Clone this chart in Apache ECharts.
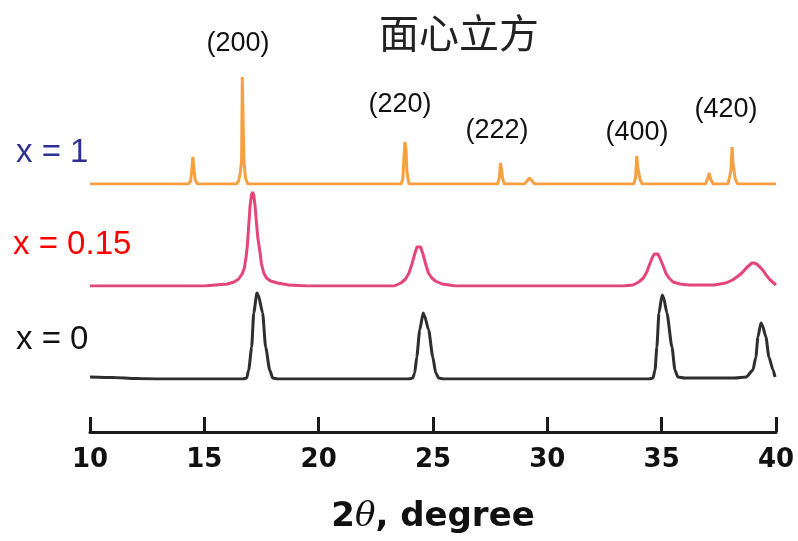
<!DOCTYPE html>
<html lang="zh" style="height: 100%">
<head>
<meta charset="utf-8">
<title>面心立方 XRD</title>
</head>
<body style="height: 100%; margin: 0; background: #fff">
<div id="container" style="width: 798px; height: 541px"></div>

<script type="text/javascript" src="https://cdn.jsdelivr.net/npm/echarts@6/dist/echarts.min.js"></script>

<script type="text/javascript">

// 2theta (degree) and intensity (a.u., above each trace's own baseline)
var theta1 = [10, 14.30, 14.40, 14.45, 14.50, 14.55, 14.60, 14.70, 16.40, 16.50, 16.58, 16.63, 16.66, 16.70, 16.73, 16.80, 16.90,
    23.60, 23.68, 23.74, 23.77, 23.82, 23.86, 23.95, 27.82, 27.90, 27.95, 28.00, 28.05, 28.12, 29.00, 29.22, 29.45,
    33.78, 33.86, 33.91, 33.96, 34.02, 34.06, 34.15, 36.92, 37.02, 37.08, 37.14, 37.25,
    37.90, 37.98, 38.03, 38.08, 38.12, 38.17, 38.22, 38.32, 40];
var int1 = [0, 0, 3, 14, 27, 14, 4, 0, 0, 3, 12, 24, 107, 107, 24, 6, 0,
    0, 5, 30, 42, 34, 12, 0, 0, 6, 21, 14, 5, 0, 0, 6, 0,
    0, 6, 28, 16, 15, 4, 0, 0, 6, 11, 5, 0,
    0, 8, 14, 37, 20, 18, 5, 0, 0];

var theta015 = [10, 15.0, 15.5, 16.0, 16.3, 16.5, 16.65, 16.75, 16.82, 16.88, 16.94, 17.0, 17.06, 17.11, 17.16, 17.22, 17.28, 17.34, 17.42, 17.5, 17.6, 17.72, 17.9, 18.2, 18.7, 19.5,
    23.3, 23.6, 23.8, 23.95, 24.08, 24.2, 24.3, 24.38, 24.46, 24.56, 24.68, 24.8, 24.95, 25.1, 25.4, 26.0,
    33.3, 33.75, 34.0, 34.2, 34.35, 34.48, 34.6, 34.68, 34.75, 34.83, 34.92, 35.05, 35.18, 35.32, 35.5, 35.8, 36.2,
    36.5, 37.3, 37.8, 38.1, 38.35, 38.55, 38.7, 38.85, 38.95, 39.04, 39.15, 39.3, 39.45, 39.6, 39.75, 39.9, 40];
var int015 = [0, 0, 1, 2, 4, 7, 12, 18, 28, 40, 60, 80, 91, 94, 91, 80, 63, 48, 36, 22, 13, 8, 5, 3, 1, 0,
    0, 3, 7, 13, 22, 32, 39, 41, 39, 32, 22, 13, 8, 5, 2, 0,
    0, 1, 4, 8, 14, 22, 29, 32, 33, 32, 28, 21, 13, 8, 4, 2, 1,
    1, 1, 3, 6, 10, 14, 18, 21, 23, 23, 22, 19, 15, 10, 6, 3, 1];

var theta0 = [10, 11, 12, 13, 16.7, 16.85, 16.94, 17.07, 17.16, 17.3, 17.36, 17.55, 17.68, 17.86, 17.99, 18.2,
    23.95, 24.11, 24.2, 24.29, 24.42, 24.57, 24.62, 24.81, 24.99, 25.12, 25.25, 25.45,
    34.45, 34.62, 34.71, 34.79, 34.88, 35.02, 35.08, 35.23, 35.45, 35.58, 35.71, 36.0,
    38.2, 38.7, 38.99, 39.12, 39.21, 39.34, 39.4, 39.56, 39.69, 39.87, 39.96];
var int0 = [2, 1.5, 0.5, 0, 0, 1, 9, 32, 66, 86, 84, 66, 32, 9, 1, 0,
    0, 1, 6, 22, 49, 66, 64, 49, 22, 6, 1, 0,
    0, 1, 9, 32, 66, 84, 82, 66, 32, 9, 2, 1,
    1, 2, 9, 22, 42, 56, 54, 42, 22, 9, 2];

var xTicks = [10, 15, 20, 25, 30, 35, 40];
var peakLabels = ['(200)', '(220)', '(222)', '(400)', '(420)'];
var sampleNames = ['x = 1', 'x = 0.15', 'x = 0'];

function pairs(xs, ys) {
    return xs.map(function (x, i) { return [x, ys[i]]; });
}

var dom = document.getElementById('container');
var myChart = echarts.init(dom);

var gridLeft = 90, gridRight = 22;
var hiddenX = function (i) {
    return { gridIndex: i, type: 'value', min: xTicks[0], max: xTicks[xTicks.length - 1], show: false };
};
var hiddenY = function (i, max) {
    return { gridIndex: i, type: 'value', min: 0, max: max, show: false };
};

function textEl(x, y, text, size, color, family) {
    return {
        type: 'text', x: x, y: y,
        style: {
            text: text, fontSize: size, fill: color,
            fontFamily: family || 'Liberation Sans, Arial, sans-serif',
            align: 'center', verticalAlign: 'middle'
        }
    };
}

var option = {
    animation: false,
    grid: [
        { left: gridLeft, right: gridRight, top: 69, height: 115 },
        { left: gridLeft, right: gridRight, top: 186, height: 100 },
        { left: gridLeft, right: gridRight, top: 289, height: 90 },
        { left: gridLeft, right: gridRight, top: 400, height: 32 }
    ],
    xAxis: [
        hiddenX(0), hiddenX(1), hiddenX(2),
        {
            gridIndex: 3,
            type: 'value',
            min: 10,
            max: 40,
            interval: 5,
            axisLine: { lineStyle: { color: '#1a1a1a', width: 3 } },
            axisTick: { inside: true, length: 15, lineStyle: { color: '#1a1a1a', width: 3 } },
            axisLabel: {
                color: '#111',
                fontSize: 26,
                fontWeight: 'bold',
                fontFamily: 'DejaVu Sans',
                margin: 15
            },
            splitLine: { show: false },
            name: '{b|2}{i|θ}{b|, degree}',
            nameLocation: 'middle',
            nameGap: 68,
            nameTextStyle: {
                rich: {
                    b: { fontSize: 34, fontWeight: 'bold', fontFamily: 'DejaVu Sans', color: '#111' },
                    i: { fontSize: 34, fontStyle: 'italic', fontFamily: 'DejaVu Serif', color: '#111' }
                }
            }
        }
    ],
    yAxis: [hiddenY(0, 115), hiddenY(1, 100), hiddenY(2, 90), hiddenY(3, 1)],
    series: [
        {
            name: sampleNames[0], type: 'line', xAxisIndex: 0, yAxisIndex: 0,
            showSymbol: false,
            lineStyle: { color: '#f7a040', width: 3 },
            data: pairs(theta1, int1)
        },
        {
            name: sampleNames[1], type: 'line', xAxisIndex: 1, yAxisIndex: 1,
            showSymbol: false,
            lineStyle: { color: '#e4467a', width: 3 },
            data: pairs(theta015, int015)
        },
        {
            name: sampleNames[2], type: 'line', xAxisIndex: 2, yAxisIndex: 2,
            showSymbol: false, smooth: 0.2, smoothMonotone: 'x',
            lineStyle: { color: '#2e2e2e', width: 3 },
            data: pairs(theta0, int0)
        }
    ],
    graphic: [
        textEl(459, 33, '面心立方', 40, '#222', 'Noto Sans CJK SC'),
        textEl(238, 44, peakLabels[0], 27, '#111'),
        textEl(400, 105, peakLabels[1], 27, '#111'),
        textEl(497, 131, peakLabels[2], 27, '#111'),
        textEl(637, 133, peakLabels[3], 27, '#111'),
        textEl(726, 110, peakLabels[4], 27, '#111'),
        {
            type: 'text', x: 16, y: 153,
            style: { text: sampleNames[0], fontSize: 33, fill: '#2e3192', fontFamily: 'Liberation Sans, Arial, sans-serif', verticalAlign: 'middle' }
        },
        {
            type: 'text', x: 13, y: 245,
            style: { text: sampleNames[1], fontSize: 33, fill: '#ff0000', fontFamily: 'Liberation Sans, Arial, sans-serif', verticalAlign: 'middle' }
        },
        {
            type: 'text', x: 16, y: 340,
            style: { text: sampleNames[2], fontSize: 33, fill: '#111', fontFamily: 'Liberation Sans, Arial, sans-serif', verticalAlign: 'middle' }
        }
    ]
};

if (option && typeof option === 'object') {
    myChart.setOption(option);
}

window.addEventListener('resize', myChart.resize);
</script>
</body>
</html>
